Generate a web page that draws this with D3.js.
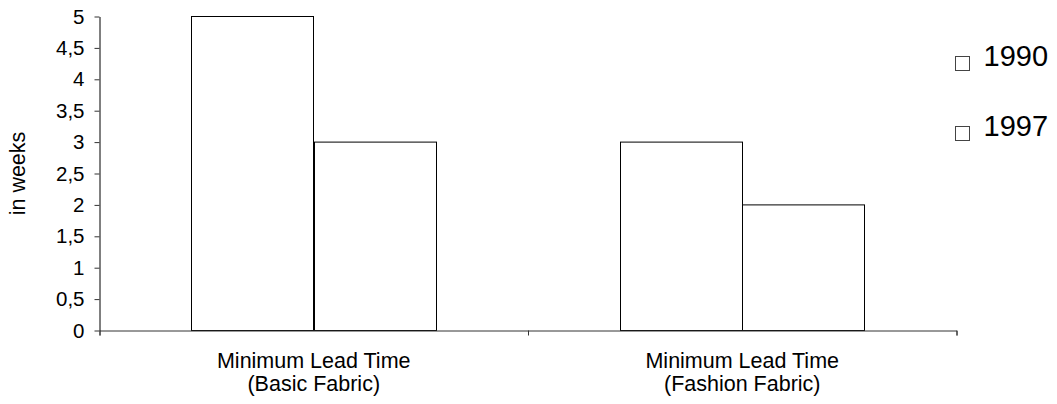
<!DOCTYPE html>
<html>
<head>
<meta charset="utf-8">
<script src="https://cdn.jsdelivr.net/npm/d3@7"></script>
<style>
  html, body { margin: 0; padding: 0; background: #fff; }
  svg { display: block; font-family: "Liberation Sans", Arial, sans-serif; }
</style>
</head>
<body>
<svg id="chart" width="1057" height="404"></svg>
<script>
// Minimum lead time data, in weeks
const categories = [["Minimum Lead Time", "(Basic Fabric)"], ["Minimum Lead Time", "(Fashion Fabric)"]];
const seriesNames = ["1990", "1997"];
const values1990 = [5, 3];
const values1997 = [3, 2];
const yTicks = [0, 0.5, 1, 1.5, 2, 2.5, 3, 3.5, 4, 4.5, 5];

const svg = d3.select("#chart");
const margin = { left: 99.5, right: 956.5, top: 16.5, bottom: 330.5 };

const x0 = d3.scaleBand()
  .domain(d3.range(categories.length))
  .range([margin.left, margin.right])
  .paddingInner(0).paddingOuter(0);

const x1 = d3.scaleBand()
  .domain(seriesNames)
  .range([0, x0.bandwidth()])
  .paddingInner(0).paddingOuter(0.749);

const y = d3.scaleLinear().domain([0, 5]).range([margin.bottom, margin.top]);

const fmt = v => String(v).replace(".", ",");

// Y axis
const yAxis = svg.append("g")
  .attr("transform", `translate(${margin.left},0)`)
  .call(d3.axisLeft(y).tickValues(yTicks).tickFormat(fmt).tickSize(5).tickPadding(10).tickSizeOuter(0));
yAxis.select(".domain").attr("stroke", "#000");
yAxis.selectAll(".tick line").attr("stroke", "#333");
yAxis.selectAll(".tick text").attr("font-size", 20.5).attr("fill", "#000")
  .attr("font-family", "Liberation Sans, Arial, sans-serif");

// Bars
const series = [values1990, values1997];
categories.forEach((c, i) => {
  seriesNames.forEach((s, j) => {
    const v = series[j][i];
    svg.append("rect")
      .attr("x", Math.round(x0(i) + x1(s)) + 0.5)
      .attr("y", y(v))
      .attr("width", Math.round(x1.bandwidth()))
      .attr("height", y(0) - y(v))
      .attr("fill", "#fff")
      .attr("stroke", "#000")
      .attr("stroke-width", 1);
  });
});

// X axis
const xAxis = svg.append("g")
  .attr("transform", `translate(0,${margin.bottom})`)
  .call(d3.axisBottom(d3.scaleLinear().domain([0, categories.length]).range([margin.left, margin.right]))
    .tickValues(d3.range(categories.length + 1)).tickSize(5).tickFormat(""));
xAxis.select(".domain").attr("stroke", "#333");
xAxis.selectAll(".tick line").attr("stroke", "#333");

// Category labels
categories.forEach((lines, i) => {
  const cx = x0(i) + x0.bandwidth() / 2;
  const t = svg.append("text")
    .attr("text-anchor", "middle")
    .attr("font-size", 21.5)
    .attr("fill", "#000");
  lines.forEach((ln, k) => {
    t.append("tspan").attr("x", cx).attr("y", 368 + k * 23).text(ln);
  });
});

// Y axis title
svg.append("text")
  .attr("transform", `translate(25,${(margin.top + margin.bottom) / 2}) rotate(-90)`)
  .attr("text-anchor", "middle")
  .attr("font-size", 21.5)
  .attr("fill", "#000")
  .text("in weeks");

// Legend
seriesNames.forEach((s, i) => {
  const ly = 56.5 + i * 70;
  svg.append("rect")
    .attr("x", 955.5).attr("y", ly)
    .attr("width", 14).attr("height", 14)
    .attr("fill", "#fff").attr("stroke", "#444");
  svg.append("text")
    .attr("x", 983.5).attr("y", ly + 9.7)
    .attr("font-size", 29)
    .attr("fill", "#000")
    .text(s);
});
</script>
</body>
</html>
